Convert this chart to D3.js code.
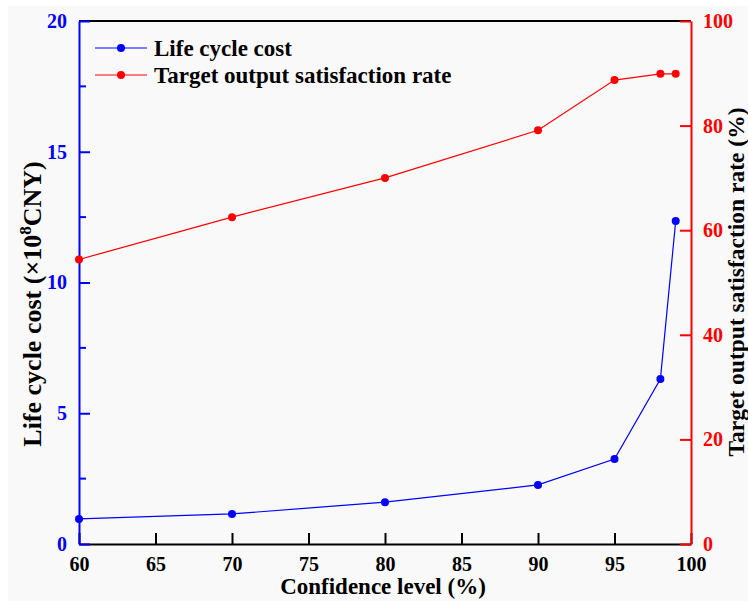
<!DOCTYPE html>
<html>
<head>
<meta charset="utf-8">
<script src="https://cdn.jsdelivr.net/npm/d3@7"></script>
<style>
  html, body { margin: 0; padding: 0; background: #ffffff; }
  svg { display: block; }
  text { font-family: "Liberation Serif", "Times New Roman", serif; font-weight: bold; }
</style>
</head>
<body>
<svg id="chart" width="748" height="601"></svg>
<script>
// Confidence levels (%) on the x axis
const confidence = [60, 70, 80, 90, 95, 98, 99];
// Life cycle cost (×10^8 CNY), left axis
const lifeCycleCost = [0.96, 1.15, 1.6, 2.26, 3.25, 6.31, 12.35];
// Target output satisfaction rate (%), right axis
const satisfaction = [54.4, 62.5, 70.0, 79.1, 88.7, 89.9, 89.9];

const xTicks = [60, 65, 70, 75, 80, 85, 90, 95, 100];
const leftTicks = [0, 5, 10, 15, 20];
const leftMinor = [2.5, 7.5, 12.5, 17.5];
const rightTicks = [0, 20, 40, 60, 80, 100];

const BLUE = "#0000ff", RED = "#ff0000";
const svg = d3.select("#chart");

const plot = { left: 79, right: 691, top: 21, bottom: 544 };

svg.append("rect").attr("x", 8).attr("y", 6).attr("width", 740).attr("height", 595)
  .attr("fill", "#f9f9f9");

const x = d3.scaleLinear().domain([60, 100]).range([plot.left, plot.right]);
const yL = d3.scaleLinear().domain([0, 20]).range([plot.bottom, plot.top]);
const yR = d3.scaleLinear().domain([0, 100]).range([plot.bottom, plot.top]);

// top frame line
svg.append("line").attr("x1", plot.left).attr("x2", plot.right)
  .attr("y1", plot.top).attr("y2", plot.top).attr("stroke", "#000").attr("stroke-width", 2);

// bottom axis
const xAxis = svg.append("g").attr("transform", `translate(0,${plot.bottom})`)
  .call(d3.axisBottom(x).tickValues(xTicks).tickSizeInner(-11).tickSizeOuter(0).tickPadding(12));
xAxis.select(".domain").attr("stroke", "#000").attr("stroke-width", 2);
xAxis.selectAll(".tick line").attr("stroke", "#000").attr("stroke-width", 2);
xAxis.selectAll(".tick text").attr("font-size", 20).attr("fill", "#000")
  .attr("font-family", "Liberation Serif").attr("font-weight", "bold").attr("dy", "0.71em")
  .attr("y", 13);

// left axis
const yAxisL = svg.append("g").attr("transform", `translate(${plot.left},0)`)
  .call(d3.axisLeft(yL).tickValues(leftTicks).tickSizeInner(-11).tickSizeOuter(0).tickPadding(12));
yAxisL.select(".domain").attr("stroke", BLUE).attr("stroke-width", 2);
yAxisL.selectAll(".tick line").attr("stroke", BLUE).attr("stroke-width", 2);
yAxisL.selectAll(".tick text").attr("font-size", 20).attr("fill", BLUE)
  .attr("font-family", "Liberation Serif").attr("font-weight", "bold");
yAxisL.selectAll(".minor").data(leftMinor).enter().append("line").attr("class", "minor")
  .attr("x1", 0).attr("x2", 7).attr("y1", d => yL(d)).attr("y2", d => yL(d))
  .attr("stroke", BLUE).attr("stroke-width", 2);

// right axis
const yAxisR = svg.append("g").attr("transform", `translate(${plot.right},0)`)
  .call(d3.axisRight(yR).tickValues(rightTicks).tickSizeInner(-11).tickSizeOuter(0).tickPadding(12));
yAxisR.select(".domain").attr("stroke", RED).attr("stroke-width", 2);
yAxisR.selectAll(".tick line").attr("stroke", RED).attr("stroke-width", 2);
yAxisR.selectAll(".tick text").attr("font-size", 20).attr("fill", RED)
  .attr("font-family", "Liberation Serif").attr("font-weight", "bold");

// axis titles
svg.append("text").attr("x", (plot.left + plot.right) / 2 - 2).attr("y", 594)
  .attr("text-anchor", "middle").attr("font-size", 23).text("Confidence level (%)");

const lt = svg.append("text").attr("transform", "translate(41,304) rotate(-90)")
  .attr("text-anchor", "middle").attr("font-size", 26);
lt.append("tspan").text("Life cycle cost (×10");
lt.append("tspan").attr("dy", -10).attr("font-size", 17).text("8");
lt.append("tspan").attr("dy", 10).text("CNY)");

svg.append("text").attr("transform", "translate(744,282) rotate(-90)")
  .attr("text-anchor", "middle").attr("font-size", 23.5).text("Target output satisfaction rate (%)");

// data series
function drawSeries(values, yScale, color) {
  const pts = confidence.map((c, i) => [c, values[i]]);
  svg.append("path").datum(pts)
    .attr("fill", "none").attr("stroke", color).attr("stroke-width", 1.2)
    .attr("d", d3.line().x(d => x(d[0])).y(d => yScale(d[1])));
  svg.append("g").selectAll("circle").data(pts).enter().append("circle")
    .attr("cx", d => x(d[0])).attr("cy", d => yScale(d[1])).attr("r", 4)
    .attr("fill", color);
}
drawSeries(lifeCycleCost, yL, BLUE);
drawSeries(satisfaction, yR, RED);

// legend
const legendItems = [
  { label: "Life cycle cost", color: BLUE },
  { label: "Target output satisfaction rate", color: RED }
];
const lg = svg.append("g").selectAll("g").data(legendItems).enter().append("g")
  .attr("transform", (d, i) => `translate(95,${48 + i * 27})`);
lg.append("line").attr("x1", 0).attr("x2", 52).attr("y1", 0).attr("y2", 0)
  .attr("stroke", d => d.color).attr("stroke-width", 1.2);
lg.append("circle").attr("cx", 26).attr("cy", 0).attr("r", 4).attr("fill", d => d.color);
lg.append("text").attr("x", 59).attr("y", 0).attr("dy", "0.35em")
  .attr("font-size", 23).attr("fill", "#000").text(d => d.label);
</script>
</body>
</html>
